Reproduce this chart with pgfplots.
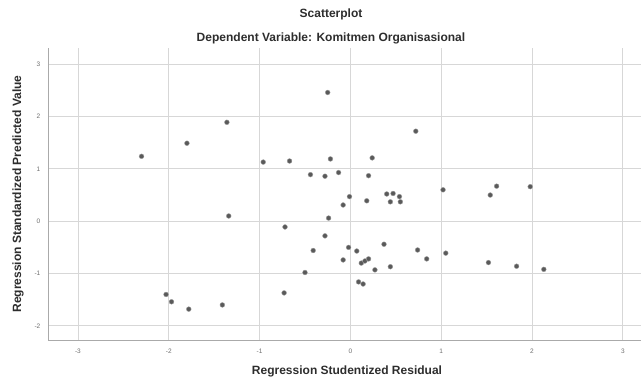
\documentclass[border=0pt]{standalone}
\usepackage{pgfplots}
\pgfplotsset{compat=1.18}
\usepackage{fontspec}
\setmainfont{Liberation Sans}
\setsansfont{Liberation Sans}
\definecolor{gridc}{RGB}{215,215,215}
\definecolor{axisc}{RGB}{170,170,170}
\definecolor{ptc}{RGB}{90,90,90}
\definecolor{txtc}{RGB}{45,45,45}
\definecolor{tickc}{RGB}{110,110,110}
\begin{document}
\begin{tikzpicture}
\useasboundingbox (0,0) rectangle (643pt,380pt);
\begin{axis}[
  at={(48pt,40pt)}, anchor=south west,
  scale only axis,
  width=593pt, height=292pt,
  xmin=-3.33, xmax=3.2,
  ymin=-2.27, ymax=3.31,
  axis x line=bottom, axis y line=left,
  axis line style={-, axisc, line width=0.8pt},
  xtick={-3,...,3}, ytick={-2,...,3},
  grid=major,
  major grid style={gridc, line width=0.8pt},
  tick style={draw=none},
  tick label style={font=\fontsize{6.5}{7}\selectfont, text=tickc},
  /pgf/number format/assume math mode=true,
  xticklabel style={yshift=-3pt},
  yticklabel style={xshift=-2pt},
  clip=false,
]
\addplot[only marks, mark=*, mark size=2.4pt, mark options={fill=ptc, draw=ptc!60!white, line width=0.4pt}] coordinates {
(-2.30,1.24) (-1.80,1.49) (-1.36,1.89) (-0.25,2.46) (-0.96,1.13) (-0.67,1.15)
(-0.22,1.19) (-0.44,0.89) (-0.28,0.86) (-0.13,0.93) (0.72,1.72) (0.24,1.21)
(0.20,0.87) (1.02,0.60) (1.61,0.67) (1.98,0.66) (1.54,0.50) (-0.01,0.47)
(-0.08,0.31) (0.18,0.39) (0.40,0.52) (0.47,0.53) (0.54,0.47) (0.44,0.37)
(0.55,0.37) (-1.34,0.10) (-0.24,0.06) (-0.28,-0.28) (-0.41,-0.56) (-0.50,-0.98)
(-0.02,-0.50) (0.07,-0.57) (-0.08,-0.74) (0.37,-0.44) (0.12,-0.80) (0.16,-0.76)
(0.20,-0.72) (0.27,-0.93) (0.44,-0.87) (0.74,-0.55) (0.84,-0.72) (1.05,-0.61)
(1.52,-0.79) (1.83,-0.86) (2.13,-0.92) (0.09,-1.16) (0.14,-1.20) (-0.72,-0.11)
(-0.73,-1.37) (-2.03,-1.40) (-1.97,-1.54) (-1.78,-1.68) (-1.41,-1.60)
};
\end{axis}
\node[font=\bfseries\fontsize{12}{13}\selectfont, text=txtc] at (331pt,366pt) {Scatterplot};
\node[font=\bfseries\fontsize{12}{13}\selectfont, text=txtc] at (331pt,342pt) {Dependent Variable: Komitmen Organisasional};
\node[font=\bfseries\fontsize{12}{13}\selectfont, text=txtc] at (347pt,9pt) {Regression Studentized Residual};
\node[font=\bfseries\fontsize{12}{13}\selectfont, text=txtc, rotate=90] at (18pt,186pt) {Regression Standardized Predicted Value};
\end{tikzpicture}
\end{document}
